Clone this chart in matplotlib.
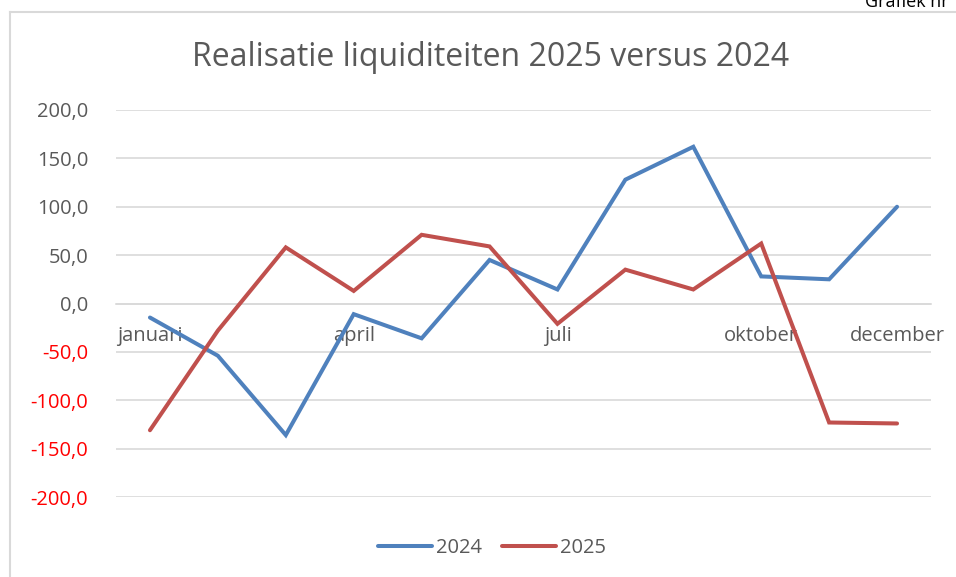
import matplotlib
matplotlib.use("Agg")
import matplotlib.pyplot as plt
from matplotlib.lines import Line2D

plt.rcParams['font.family'] = ['Open Sans', 'DejaVu Sans']

months = ["januari", "februari", "maart", "april", "mei", "juni", "juli",
          "augustus", "september", "oktober", "november", "december"]
shown_labels = ["januari", "", "", "april", "", "", "juli", "", "", "oktober", "", "december"]
values_2024 = [-14.5, -54, -136, -11, -36, 45, 14.5, 128, 162, 28, 25, 100]
values_2025 = [-131, -28, 58, 13, 71, 59, -21, 35, 14.5, 62, -123, -124]
yticks = [-200, -150, -100, -50, 0, 50, 100, 150, 200]

TXT = "#595959"
GRID = "#D9D9D9"
FS = 14.5

fig = plt.figure(figsize=(9.56, 5.77), dpi=100)
W, H = 956, 577
ax = fig.add_axes([116 / W, 1 - 497 / H, (931 - 116) / W, (497 - 110) / H])

x = list(range(len(months)))
ax.plot(x, values_2024, color="#4F81BD", lw=2.9, solid_capstyle="round",
        solid_joinstyle="miter", label="2024", zorder=3)
ax.plot(x, values_2025, color="#C0504D", lw=2.9, solid_capstyle="round",
        solid_joinstyle="miter", label="2025", zorder=3)

ax.set_xlim(-0.5, len(months) - 0.5)
ax.set_ylim(-200, 200)
ax.set_yticks(yticks)
ax.set_yticklabels([f"{v:.1f}".replace(".", ",") for v in yticks])
for lbl, v in zip(ax.get_yticklabels(), yticks):
    lbl.set_color("#FF0000" if v < 0 else TXT)
    lbl.set_fontsize(FS)
ax.yaxis.grid(True, color=GRID, lw=1.2)
ax.set_axisbelow(True)
ax.tick_params(axis="y", length=0, pad=20)

ax.spines['bottom'].set_position(('data', 0))
ax.spines['bottom'].set_color(GRID)
ax.spines['bottom'].set_linewidth(1.2)
for s in ['top', 'right', 'left']:
    ax.spines[s].set_visible(False)
ax.set_xticks(x)
ax.set_xticklabels(shown_labels, fontsize=FS, color=TXT)
ax.tick_params(axis="x", length=0, pad=16)

fig.text(491 / W, 1 - 58 / H, "Realisatie liquiditeiten 2025 versus 2024",
         ha="center", va="center", fontsize=23, color=TXT)

leg = fig.legend(handles=[Line2D([], [], color="#4F81BD", lw=2.9, solid_capstyle="round"),
                          Line2D([], [], color="#C0504D", lw=2.9, solid_capstyle="round")],
                 labels=["2024", "2025"], loc="center", bbox_to_anchor=(492 / W, 1 - 548 / H),
                 ncol=2, frameon=False, fontsize=FS, handlelength=2.7,
                 handletextpad=0.2, columnspacing=1.0)
for t in leg.get_texts():
    t.set_color(TXT)

# chart area border (left and top)
fig.add_artist(Line2D([9.5 / W, 9.5 / W], [0, 1 - 12 / H], transform=fig.transFigure,
                      color="#D9D9D9", lw=1.5))
fig.add_artist(Line2D([9.5 / W, 1], [1 - 12 / H, 1 - 12 / H], transform=fig.transFigure,
                      color="#D9D9D9", lw=1.5))

fig.text(865 / W, 1 - 7 / H, "Grafiek nr", ha="left", va="baseline",
         fontsize=13, color="black")

fig.savefig("out.png", dpi=100)
